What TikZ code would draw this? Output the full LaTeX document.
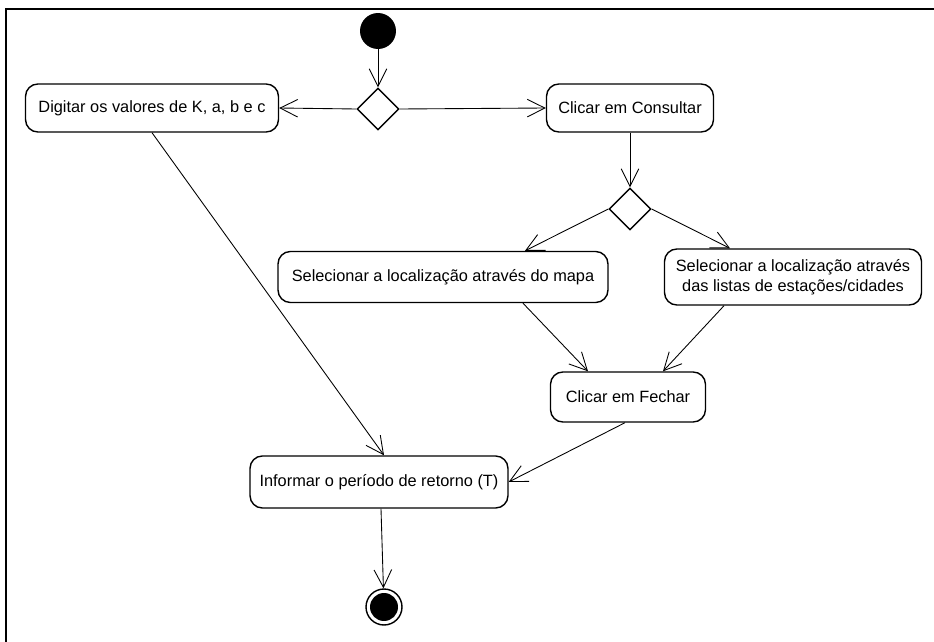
\documentclass[tikz,border=0pt]{standalone}
\usepackage{fontspec}
\setmainfont{Liberation Sans}
\usetikzlibrary{shapes.geometric,arrows.meta}

\begin{document}
\begin{tikzpicture}[x=0.02cm,y=-0.02cm,
    font=\fontsize{9.3}{11.2}\selectfont,
    activity/.style={draw, line width=0.8pt, rounded corners=7pt, align=center, inner sep=0pt},
    decision/.style={diamond, draw, line width=0.8pt, minimum size=0.84cm, inner sep=0pt, fill=white},
    flow/.style={line width=0.5pt, -{Straight Barb[length=10pt,width=10pt,line width=0.5pt]}}]

    \useasboundingbox (0,0) rectangle (934,642);
    \draw[line width=1.1pt] (6,642) -- (6,9) -- (934,9);

    % nos
    \node[circle, fill=black, minimum size=0.72cm, inner sep=0pt] (start) at (378,31) {};
    \node[decision] (d1) at (378,109) {};
    \node[activity, minimum width=5.06cm, minimum height=0.96cm] (digitar) at (152,108) {Digitar os valores de K, a, b e c};
    \node[activity, minimum width=3.34cm, minimum height=0.96cm] (consultar) at (630,108) {Clicar em Consultar};
    \node[decision] (d2) at (630,209) {};
    \node[activity, minimum width=6.6cm, minimum height=1.02cm] (mapa) at (443,277) {Selecionar a localização através do mapa};
    \node[activity, minimum width=5.14cm, minimum height=1.12cm] (listas) at (793,277) {Selecionar a localização através\\das listas de estações/cidades};
    \node[activity, minimum width=3.1cm, minimum height=1.0cm] (fechar) at (628,397) {Clicar em Fechar};
    \node[activity, minimum width=5.16cm, minimum height=1.04cm] (informar) at (379,482) {Informar o período de retorno (T)};
    \node[circle, draw, line width=0.8pt, minimum size=0.72cm, inner sep=0pt,
          path picture={\fill (path picture bounding box.center) circle (0.28cm);}] (end) at (384,607) {};

    % fluxos
    \draw[flow] (start) -- (d1.north);
    \draw[flow] (d1.west) -- (digitar.east);
    \draw[flow] (d1.east) -- (consultar.west);
    \draw[flow] (consultar.south) -- (d2.north);
    \draw[flow] (d2.west) -- ([xshift=1.64cm]mapa.north);
    \draw[flow] (d2.east) -- ([xshift=-1.26cm]listas.north);
    \draw[flow] ([xshift=1.6cm]mapa.south) -- ([xshift=-0.8cm]fechar.north);
    \draw[flow] ([xshift=-1.38cm]listas.south) -- ([xshift=0.7cm]fechar.north);
    \draw[flow] ([xshift=-0.06cm]fechar.south) -- (informar.east);
    \draw[flow] (digitar.south) -- ([xshift=0.1cm]informar.north);
    \draw[flow] ([xshift=0.04cm]informar.south) -- (end);

\end{tikzpicture}
\end{document}
